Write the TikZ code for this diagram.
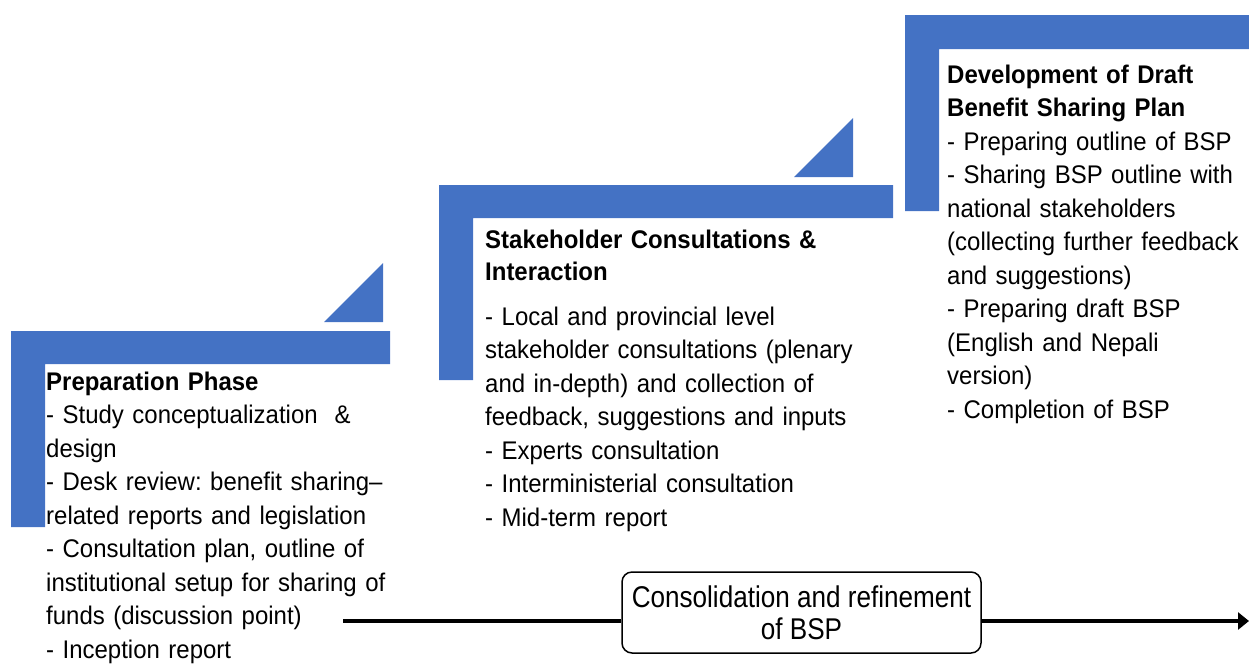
\documentclass[tikz,border=0pt]{standalone}
\usepackage{fontspec}
\setmainfont{Liberation Sans}[FakeStretch=0.94]
\newfontfamily\boxfont{Liberation Sans}[FakeStretch=0.87]
\usetikzlibrary{arrows.meta}
\definecolor{barblue}{HTML}{4472C4}
\frenchspacing
\tikzset{
  bar/.style={fill=barblue,draw=none},
  phasetext/.style={inner sep=0pt,anchor=base west,text width=420pt,align=left,
    font=\fontsize{25.5}{33.5}\selectfont},
  cbox/.style={draw=black,line width=1.5pt,rounded corners=10pt,fill=white,
    minimum width=359pt,minimum height=81pt,inner sep=0pt,align=center,
    font=\boxfont\fontsize{30}{32}\selectfont},
  flow/.style={line width=4pt,draw=black},
}
\begin{document}
\begin{tikzpicture}[x=1pt,y=-1pt]
\useasboundingbox (0,0) rectangle (1249,665);
% step shapes
\fill[bar] (11,331) -- (390,331) -- (390,364) -- (45,364) -- (45,527) -- (11,527) -- cycle;
\fill[bar] (324,322) -- (383,322) -- (383,263) -- cycle;
\fill[bar] (439,185) -- (893,185) -- (893,218) -- (473,218) -- (473,380) -- (439,380) -- cycle;
\fill[bar] (794,177) -- (853,177) -- (853,118) -- cycle;
\fill[bar] (905,15) -- (1249,15) -- (1249,49) -- (939,49) -- (939,211) -- (905,211) -- cycle;
% texts
\node[phasetext] (prep) at (46,390) {\textbf{Preparation Phase}\\
- Study conceptualization~~\&\\
design\\
- Desk review: benefit sharing–\\
related reports and legislation\\
- Consultation plan, outline of\\
institutional setup for sharing of\\
funds (discussion point)\\
- Inception report};
\node[phasetext] (stake) at (485,248) {\textbf{Stakeholder Consultations \&}\\[-1.5pt]
\textbf{Interaction}\\[11.5pt]
- Local and provincial level\\
stakeholder consultations (plenary\\
and in-depth) and collection of\\
feedback, suggestions and inputs\\
- Experts consultation\\
- Interministerial consultation\\
- Mid-term report};
\node[phasetext] (draft) at (947,83) {\textbf{Development of Draft}\\
\textbf{Benefit Sharing Plan}\\
- Preparing outline of BSP\\
- Sharing BSP outline with\\
national stakeholders\\
(collecting further feedback\\
and suggestions)\\
- Preparing draft BSP\\
(English and Nepali\\
version)\\
- Completion of BSP};
% bottom flow
\coordinate (fstart) at (343,621);
\coordinate (fend) at (1249,621);
\node[cbox] (consol) at (801.5,612.5) {Consolidation and refinement\\of BSP};
\draw[flow] (fstart) -- (fstart -| consol.west);
\draw[flow,-{Triangle[length=11pt,width=17pt]}] (fend -| consol.east) -- (fend);
\end{tikzpicture}
\end{document}
